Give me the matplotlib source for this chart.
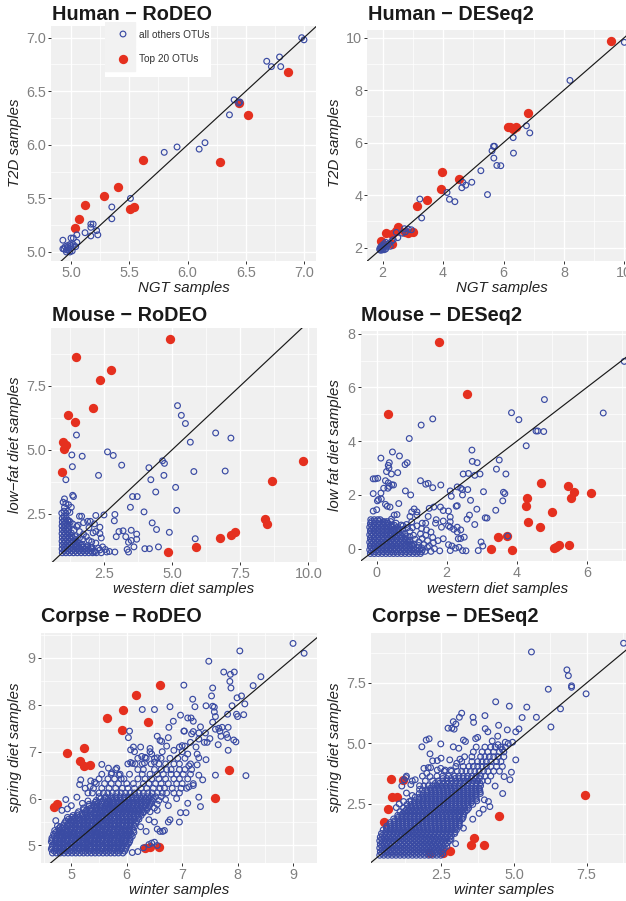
import matplotlib
matplotlib.use('Agg')
import matplotlib.pyplot as plt
from matplotlib.patches import Rectangle

plt.rcParams['font.family'] = ['Liberation Sans', 'DejaVu Sans']

W, H = 626, 901
BLUE = '#3A4BA3'
RED = '#E5301F'
BG = '#F0F0F0'

# ---- Human RoDEO
hr_blue = [(7.0,6.98),(6.98,7.0),(6.79,6.82),(6.68,6.78),(6.72,6.73),(6.80,6.73),(6.40,6.42),(6.44,6.39),(6.45,6.40),
           (6.36,6.28),(6.15,6.02),(6.10,5.96),(5.91,5.98),(5.80,5.93),(5.51,5.50),(5.35,5.42),(5.35,5.31),(5.17,5.26),
           (5.19,5.26),(5.17,5.23),(5.12,5.18),(5.22,5.20),(5.23,5.16),(5.17,5.15),(5.05,5.16),(5.05,5.09),(5.02,5.13),
           (5.00,5.13),(4.93,5.11),(5.02,5.07),(4.99,5.07),(4.97,5.06),(5.04,5.05),(5.0,5.04),(4.97,5.04),(4.93,5.03),
           (4.94,5.03),(4.96,5.02),(4.98,5.02),(5.01,5.01),(4.96,5.0),(4.99,5.0),(5.0,5.06),(4.95,5.05)]
hr_red = [(6.86,6.68),(6.44,6.39),(6.52,6.28),(6.28,5.84),(5.62,5.86),(5.40,5.61),(5.28,5.52),(5.12,5.44),(5.54,5.42),
          (5.51,5.40),(5.07,5.31),(5.03,5.22)]

# ---- Human DESeq2
hd_blue = [(10.0,9.82),(8.2,8.37),(6.76,6.64),(6.87,6.37),(6.32,6.19),(6.33,5.6),(5.67,5.86),(5.70,5.86),(5.62,5.69),
           (5.68,5.41),(5.78,5.13),(5.91,5.12),(5.25,4.93),(5.47,4.02),(4.95,4.49),(4.65,4.49),(4.75,4.38),(4.62,4.28),
           (4.13,4.10),(4.21,3.84),(4.39,3.75),(3.23,3.85),(3.29,3.13),(2.95,2.68),(2.85,2.70),(2.72,2.72),(2.45,2.58),
           (2.65,2.55),(2.75,2.6),(2.5,2.38),(2.3,2.25),(2.25,2.05),(2.1,2.2),(2.05,2.15),(2.0,2.0),(1.9,1.95),(1.95,1.9),
           (2.05,1.92),(2.1,1.95),(2.15,2.05),(1.98,2.08),(1.93,2.02),(2.0,1.92),(2.08,2.05),(2.2,2.15),(2.35,2.3),
           (1.97,1.97),(2.03,2.03),(1.91,1.91),(2.12,2.12)]
hd_red = [(9.56,9.88),(6.82,7.12),(6.15,6.6),(6.3,6.52),(6.42,6.58),(6.22,6.58),(3.98,4.87),(3.94,4.25),(4.52,4.63),
          (3.48,3.83),(3.15,3.6),(2.52,2.78),(2.1,2.55),(2.3,2.5),(2.45,2.65),(2.85,2.55),(3.0,2.6),(2.75,2.6),
          (1.95,2.25),(2.3,2.15)]

# ---- Mouse RoDEO
mr_red = [(4.93,9.34),(1.47,8.62),(2.77,8.13),(2.37,7.72),(2.08,6.63),(1.18,6.35),(1.42,6.08),(1.0,5.31),(1.12,5.2),
          (1.05,5.02),(0.97,4.14),(4.84,1.0),(5.88,1.2),(6.75,1.55),(7.15,1.65),(7.3,1.77),(8.4,2.28),(8.48,2.1),
          (8.68,3.77),(9.82,4.55)]
mr_blue = [(5.2,6.73),(5.34,6.35),(5.49,6.03),(6.6,5.66),(7.16,5.46),(5.67,5.3),(1.49,5.58),(1.32,4.8),(1.7,4.75),
           (2.63,4.92),(2.84,4.78),(3.15,4.4),(1.34,4.34),(4.15,4.3),(4.65,4.57),(4.72,4.47),(4.7,4.0),(5.8,4.15),
           (6.95,4.17),(2.3,4.0),(4.22,3.83),(1.1,3.83),(5.13,3.53),(4.4,3.35),(3.55,3.17),(3.72,3.17),(1.35,3.22),
           (1.38,3.17),(3.47,2.75),(5.17,2.63),(3.97,2.57),(2.9,2.47),(2.5,2.45),(2.2,2.43),(2.88,2.22),(4.27,2.14),
           (4.43,1.88),(4.9,1.77),(3.5,1.85),(3.2,1.83),(3.05,1.8),(3.7,1.7),(2.95,1.6),(3.3,1.6),(3.7,1.5),(5.85,1.52),
           (3.5,1.45),(3.4,1.38),(3.6,1.2),(4.5,1.2),(3.35,1.1),(3.4,1.0),(4.0,1.13),(4.17,1.13),(2.9,1.0),(2.7,1.02),
           (2.55,1.1),(2.35,1.08),(1.0,2.95),(1.05,3.08),(1.1,2.9),(1.2,2.85),(1.3,2.75),(1.05,2.75),(0.95,2.52),
           (1.1,2.52),(1.25,2.55),(1.6,2.4),(1.68,2.4),(1.9,2.2),(2.0,2.2),(1.55,2.05),(1.75,2.15),(2.15,2.1),(2.35,1.97),
           (2.2,1.8),(2.1,1.75),(2.35,1.72),(2.4,1.55),(1.95,1.95),(1.6,1.8),(1.85,1.6),(2.05,1.4),(2.2,1.35),(2.3,1.15),
           (1.7,1.3),(1.9,1.25),(2.6,1.0),(2.15,1.0),(1.5,2.0),(1.4,1.85),(1.75,1.7),(1.6,1.55),(1.45,1.6),(1.3,1.75),
           (1.35,2.1),(1.22,2.22),(1.55,1.35),(1.72,1.5),(1.95,1.45),(1.48,1.2),(1.82,1.12),(2.05,1.18),(2.45,1.2)]
mr_a = [1.03,1.17,1.31,1.45,1.59,1.73,1.87,2.01,2.15,2.29]
mr_rows = {0.97: [0.97,1.1,1.24,1.38,1.52,1.66,1.8,1.94,2.08,2.22,2.4],
           1.04: mr_a[:9],
           1.12: [0.96,1.08,1.22,1.36,1.5,1.64,1.78,1.92,2.05],
           1.19: mr_a[:8],
           1.27: [0.97,1.1,1.24,1.38,1.52,1.66],
           1.34: mr_a[:5],
           1.42: [0.96,1.08,1.22,1.36,1.48],
           1.49: mr_a[:4],
           1.57: [0.97,1.1,1.24,1.34],
           1.64: mr_a[:3],
           1.72: [0.96,1.08,1.22],
           1.79: mr_a[:2],
           1.87: [0.97,1.1,1.2],
           1.94: mr_a[:2],
           2.02: [0.96,1.08,1.22],
           2.09: mr_a[:2],
           2.17: [0.97,1.1,1.26],
           2.24: mr_a[:2],
           2.32: [0.97,1.12],
           2.4: mr_a[:1],
           2.6: mr_a[:2]}

# ---- Mouse DESeq2
md_red = [(1.78,7.68),(2.58,5.75),(0.33,5.0),(4.7,2.45),(5.45,2.33),(5.63,2.1),(6.13,2.08),(5.56,1.9),(4.3,1.88),
          (4.27,1.6),(5.0,1.37),(4.33,1.0),(4.67,0.8),(3.47,0.42),(3.72,0.47),(3.27,0.0),(3.87,-0.05),(5.07,0.03),
          (5.13,0.05),(5.22,0.15),(5.5,0.15)]
md_blue = [(7.07,6.97),(6.47,5.05),(4.79,5.55),(3.85,5.06),(4.06,4.8),(4.55,4.38),(4.6,4.38),(4.77,4.36),(4.27,3.83),
           (1.6,4.83),(1.27,4.6),(0.93,4.1),(0.45,3.6),(2.72,3.67),(0.65,3.45),(0.12,3.37),(2.73,3.25),(2.87,3.2),
           (3.5,3.3),(0.36,3.2),(0.33,3.1),(0.87,3.2),(0.81,3.13),(3.42,2.96),(0.35,3.0),(0.28,2.87),(0.42,2.78),
           (0.6,2.83),(2.47,2.78),(2.62,2.8),(2.95,2.78),(2.8,2.73),(3.69,2.78),(-0.1,2.6),(-0.04,2.6),(0.03,2.62),
           (0.25,2.53),(0.33,2.45),(0.43,2.38),(0.48,2.37),(0.36,2.32),(0.2,2.25),(0.32,2.25),(1.25,2.53),(1.4,2.4),
           (1.47,2.43),(1.6,2.27),(1.83,2.37),(2.3,2.3),(2.4,2.25),(2.45,2.2),(2.6,2.2),(2.45,2.0),(2.1,2.15),(2.13,1.95),
           (0.82,2.15),(0.97,2.0),(-0.1,2.05),(0.12,2.07),(3.05,2.12),(3.62,2.1),(3.66,2.05),(3.6,1.78),(2.68,1.8),
           (0.63,1.68),(0.25,1.65),(0.3,1.58),(0.38,1.55),(0.02,1.78),(0.05,1.83),(0.13,1.85),(2.3,1.6),(2.27,1.58),
           (2.86,1.47),(3.4,1.43),(1.63,1.55),(1.82,1.55),(1.9,1.42),(2.05,1.4),(1.5,1.5),(1.0,1.37),(1.07,1.48),
           (1.15,1.37),(1.15,1.25),(0.95,1.2),(0.5,1.25),(0.58,1.27),(0.42,1.1),(-0.1,1.4),(0.0,1.45),(3.1,1.15),
           (3.15,1.14),(2.65,1.25),(2.58,1.1),(2.1,1.18),(1.9,1.03),(2.1,1.0),(1.7,1.08),(1.68,0.95),(1.4,0.95),(1.47,1.2),
           (1.85,0.8),(2.05,0.85),(2.1,0.8),(2.3,0.8),(2.4,0.7),(2.2,0.72),(2.3,0.62),(2.5,0.43),(2.4,0.38),(2.33,0.37),
           (2.8,0.9),(2.98,0.25),(3.03,0.1),(2.9,-0.07),(3.74,0.47),(2.45,-0.07),(2.55,-0.08),(2.15,0.1),(2.35,0.05),
           (2.25,0.02),(2.05,0.15),(2.1,-0.07),(1.9,0.37),(1.75,0.3),(1.3,0.95),(1.15,0.85),(1.28,0.75),(1.42,0.7),
           (1.55,0.62),(1.6,0.42),(1.4,0.5),(1.25,0.55),(1.3,0.38),(1.45,0.3),(1.62,0.22),(1.5,0.1),(1.65,0.0),(1.8,-0.08),
           (1.55,-0.1),(1.0,1.0),(0.85,0.9),(0.7,0.88),(0.55,0.95),(0.75,0.72),(0.95,0.65),(1.05,0.5),(1.1,0.35),
           (0.75,0.85),(0.6,0.8),(0.88,0.78),(1.02,0.78),(0.62,0.68),(0.8,0.55),(0.95,0.45),(1.2,0.25),(1.35,0.15),
           (0.72,0.45),(0.9,0.3),(1.0,0.15),(1.2,0.12),(1.38,-0.1),(1.45,0.05),(1.3,-0.05),(0.22,1.0),(0.32,0.95),(0.45,0.85)]
md_a = [-0.15,-0.04,0.07,0.18,0.29,0.4,0.51,0.62,0.73,0.84,0.95,1.06,1.17,1.28,1.39]
md_rows = {-0.18: [-0.18,-0.07,0.04,0.15,0.26,0.37,0.48,0.59,0.7,0.81,0.92,1.03,1.14,1.25],
           -0.11: md_a[:14],
           -0.04: [-0.2,-0.1,0.01,0.12,0.23,0.34,0.45,0.56,0.67,0.78,0.89,1.0,1.11,1.22],
           0.03: md_a[:14],
           0.1: [-0.18,-0.07,0.04,0.15,0.26,0.37,0.48,0.59,0.7,0.81,0.92,1.03],
           0.17: md_a[:12],
           0.24: [-0.2,-0.1,0.01,0.12,0.23,0.34,0.45,0.56,0.67,0.78,0.89],
           0.31: md_a[:11],
           0.38: [-0.18,-0.07,0.04,0.15,0.26,0.37,0.48,0.59,0.7,0.82],
           0.45: md_a[:10],
           0.52: [-0.2,-0.1,0.01,0.12,0.23,0.34,0.45,0.56,0.68],
           0.59: md_a[:9],
           0.66: [-0.18,-0.07,0.04,0.15,0.26,0.37,0.48,0.58],
           0.73: md_a[:8],
           0.8: [-0.2,-0.1,0.01,0.12,0.23,0.34,0.44],
           0.87: md_a[:7],
           0.94: [-0.18,-0.07,0.04,0.15,0.26],
           1.01: md_a[:6],
           1.08: [-0.17,-0.07,0.03,0.1]}

# ---- Corpse RoDEO
cr_red = [(6.6,8.42),(6.17,8.2),(5.94,7.88),(5.64,7.72),(6.39,7.63),(5.92,7.47),(5.23,7.07),(4.93,6.97),(5.16,6.8),
          (5.23,6.7),(5.33,6.71),(4.74,5.89),(4.69,5.83),(7.84,6.6),(7.6,6.01),(6.58,4.96),(6.42,4.96),(6.33,4.94)]
cr_blue = [(9.0,9.31),(9.2,9.1),(8.04,9.15),(7.48,8.93),(7.75,8.7),(7.87,8.65),(7.94,8.7),(7.86,8.5),(8.42,8.6),(8.28,8.41),
           (7.03,8.42),(7.55,8.36),(7.88,8.36),(7.53,8.19),(7.19,8.12),(7.99,8.15),(8.07,8.19),(8.13,8.02),(7.9,7.98),
           (6.78,7.96),(7.23,7.96),(7.43,7.98),(7.55,7.97),(7.58,7.95),(7.58,7.85),(7.6,7.75),(6.28,7.9),(6.5,7.9),
           (6.97,7.78),(7.1,7.72),(7.16,7.72),(7.2,7.65),(7.55,7.63),(7.82,7.8),(7.98,7.8),(8.0,7.75),(8.11,7.79),
           (6.84,7.65),(6.76,7.52),(7.33,7.53),(7.6,7.48),(7.66,7.5),(7.72,7.52),(7.83,7.52),(6.05,7.44),(6.03,7.3),
           (7.03,7.44),(7.04,7.44),(7.2,7.43),(7.17,7.38),(7.3,7.4),(7.42,7.4),(7.68,7.44),(7.8,7.37),(7.7,7.33),(7.82,7.3),
           (7.93,7.25),(7.97,7.21),(7.83,7.03),(7.65,7.15),(7.5,7.28),(7.4,7.2),(7.3,7.27),(7.15,7.2),(6.75,7.3),(6.55,7.33),
           (6.6,7.24),(6.63,7.22),(6.72,7.12),(6.95,7.1),(7.0,7.13),(7.05,7.12),(7.25,7.1),(7.45,7.2),(6.25,7.1),(6.12,7.1),
           (6.07,7.04),(6.14,7.0),(6.42,7.07),(6.42,7.0),(6.27,6.9),(6.33,6.88),(6.45,6.95),(6.55,6.87),(6.64,7.0),(6.85,7.03),
           (7.0,7.0),(7.1,6.95),(7.27,6.95),(7.3,6.87),(7.43,6.83),(7.27,6.72),(7.12,6.7),(7.17,6.62),(7.3,6.5),(7.37,6.4),
           (7.6,6.5),(8.15,6.49),(7.2,6.28),(7.12,6.25),(7.3,6.03),(7.33,5.83),(7.1,5.9),(6.97,5.7),(7.07,5.7),(6.95,5.5),
           (6.75,5.5),(6.5,5.5),(6.6,5.3),(6.78,5.55),(6.65,5.3),(6.68,5.32),(5.55,6.73),(5.67,6.65),(5.82,6.65),(5.73,6.55),
           (5.86,6.5),(6.07,6.77),(6.1,6.75),(6.32,6.76),(6.5,6.78),(5.17,6.4),(5.15,6.3),(5.35,6.38),(5.42,6.35),(5.34,6.26),
           (4.9,5.98),(5.1,6.03),(4.72,5.53),(4.75,5.42),(4.83,5.75),(4.93,5.78),(6.3,4.95),(6.45,5.05),(6.5,5.07),(6.4,5.02),
           (6.2,4.87),(6.1,4.85),(6.55,5.0),(6.35,5.3),(6.55,5.35),(6.4,5.55),(6.25,5.4),(6.3,5.7),(6.55,5.75),(6.75,5.85),
           (6.9,6.0),(6.7,5.98),(5.0,5.85),(5.2,5.9),(5.3,5.95)]
cr_a = [4.69,4.77,4.83,4.9,4.98,5.04,5.11,5.19,5.25,5.32,5.4,5.46,5.53,5.61,5.67,5.74,5.82,5.88,5.96,6.03,6.1,6.18,6.25,6.33,6.4,6.48]
cr_b = [4.65,4.72,4.8,4.86,4.93,5.01,5.07,5.14,5.22,5.28,5.35,5.43,5.49,5.56,5.64,5.7,5.77,5.85,5.91,5.99,6.06,6.13,6.21,6.28,6.36,6.44]
cr_rows = {4.84: [4.66,4.73,4.8,4.87,4.94,5.01,5.08,5.15,5.22,5.29,5.36,5.43,5.5,5.57,5.64,5.71,5.78,5.85,5.93],
           4.88: cr_a[:19],
           4.92: [4.64,4.71,4.78,4.85,4.92,4.99,5.06,5.13,5.2,5.27,5.34,5.41,5.48,5.55,5.62,5.69,5.76,5.83,5.9,5.98],
           4.96: cr_b[:20],
           5.0: [4.66,4.73,4.8,4.87,4.94,5.01,5.08,5.15,5.22,5.29,5.36,5.43,5.5,5.57,5.64,5.71,5.78,5.85,5.92,6.0],
           5.04: cr_a[:20],
           5.08: [4.64,4.71,4.78,4.85,4.92,4.99,5.06,5.13,5.2,5.27,5.34,5.41,5.48,5.55,5.62,5.69,5.76,5.83,5.9,5.97,6.05],
           5.12: cr_b[:21],
           5.16: [4.65,4.73,4.8,4.87,4.94,5.01,5.08,5.15,5.22,5.29,5.36,5.43,5.5,5.57,5.64,5.71,5.78,5.85,5.92,5.99,6.06],
           5.2: cr_a[:21],
           5.24: [4.68,4.75,4.82,4.89,4.96,5.03,5.1,5.17,5.24,5.31,5.38,5.45,5.52,5.59,5.66,5.73,5.8,5.87,5.94,6.01,6.08],
           5.28: cr_b[1:22],
           5.32: [4.7,4.78,4.85,4.92,4.99,5.06,5.13,5.2,5.27,5.34,5.41,5.48,5.55,5.62,5.69,5.76,5.83,5.9,5.97,6.04,6.12],
           5.36: cr_a[1:21],
           5.4: [4.8,4.87,4.94,5.01,5.08,5.15,5.22,5.29,5.36,5.43,5.5,5.57,5.64,5.71,5.78,5.85,5.92,5.99,6.06,6.14],
           5.44: cr_b[3:22],
           5.48: [4.88,4.95,5.02,5.09,5.16,5.23,5.3,5.37,5.44,5.51,5.58,5.65,5.72,5.79,5.86,5.93,6.0,6.07,6.16],
           5.52: cr_a[3:22],
           5.56: [4.95,5.02,5.09,5.16,5.23,5.3,5.37,5.44,5.51,5.58,5.65,5.72,5.79,5.86,5.93,6.0,6.07,6.14,6.22],
           5.6: cr_b[4:23],
           5.64: [5.03,5.11,5.2,5.28,5.35,5.42,5.49,5.56,5.63,5.7,5.77,5.84,5.91,5.98,6.05,6.12,6.19,6.26],
           5.68: cr_a[6:23],
           5.72: [5.13,5.25,5.36,5.44,5.51,5.58,5.65,5.72,5.79,5.86,5.93,6.0,6.07,6.14,6.21,6.3,6.42],
           5.76: cr_b[8:25],
           5.8: [5.22,5.35,5.45,5.53,5.6,5.67,5.74,5.81,5.88,5.95,6.02,6.09,6.16,6.23,6.3,6.38,6.5],
           5.84: cr_a[9:25],
           5.88: [5.32,5.44,5.55,5.63,5.7,5.77,5.84,5.91,5.98,6.05,6.12,6.19,6.26,6.33,6.42,6.55],
           5.92: cr_b[11:26],
           5.96: [5.45,5.58,5.68,5.75,5.82,5.89,5.96,6.03,6.1,6.17,6.24,6.31,6.38,6.46,6.58],
           6.0: cr_a[12:26],
           6.04: [5.5,5.62,5.72,5.8,5.88,5.95,6.02,6.09,6.16,6.23,6.3,6.37,6.44,6.52,6.62],
           6.12: [5.3,5.38,5.5,5.58,5.66,5.74,5.82,5.9,5.98,6.06,6.14,6.22,6.3,6.38,6.46,6.55,6.64,6.72,6.85,6.95],
           6.22: [5.25,5.4,5.55,5.68,5.8,5.92,6.02,6.14,6.26,6.36,6.48,6.6,6.68,6.82,6.98,7.08],
           6.32: [5.45,5.6,5.72,5.85,6.0,6.12,6.3,6.4,6.52,6.62,6.75,6.9,7.0,7.2],
           6.42: [5.5,5.66,5.78,5.9,5.95,6.2,6.33,6.45,6.58,6.7,6.85,6.95,7.1],
           6.52: [5.55,5.72,5.88,6.05,6.28,6.42,6.55,6.66,6.8,6.9,7.02,7.15],
           6.62: [5.8,6.2,6.3,6.5,6.62,6.72,6.8,6.95,7.05],
           6.74: [6.02,6.15,6.28,6.44,6.58,6.7,6.85,6.95,7.15],
           6.86: [6.2,6.35,6.5,6.62,6.78,6.92,7.05]}

# ---- Corpse DESeq2
cd_red = [(7.43,2.85),(4.5,2.0),(0.77,3.55),(1.19,3.49),(0.79,2.8),(0.96,2.8),(0.68,2.28),(0.54,1.77),(3.62,1.11),
          (3.51,0.82),(3.96,0.82),(2.8,0.57),(2.57,0.49),(2.11,0.46)]
cd_blue = [(8.77,9.14),(5.6,8.78),(6.82,8.04),(6.87,7.8),(6.98,7.38),(6.98,7.32),(7.48,7.05),(6.18,7.24),(6.6,6.43),(6.27,5.68),
           (4.37,6.72),(4.84,6.54),(5.44,6.5),(5.28,6.07),(5.77,6.08),(4.0,6.15),(3.2,6.25),(2.91,5.9),(3.0,5.8),(2.73,5.63),
           (2.86,5.63),(2.94,5.59),(3.12,6.08),(3.59,6.08),(3.61,5.87),(4.01,5.61),(4.1,5.48),(4.47,5.75),(4.77,5.56),(5.17,5.6),
           (5.06,5.48),(4.44,5.3),(3.75,5.25),(3.68,5.2),(3.26,5.14),(3.33,5.08),(1.83,4.86),(1.98,5.14),(2.08,5.19),(2.48,4.98),
           (2.91,4.86),(3.1,4.8),(2.11,4.57),(2.49,4.39),(2.2,4.28),(2.36,4.29),(2.79,4.32),(3.14,4.35),(3.03,4.18),(1.9,3.97),
           (2.05,4.0),(2.13,4.0),(2.0,3.77),(2.11,3.63),(2.36,3.9),(2.48,3.97),(2.63,3.9),(2.82,3.9),(5.06,4.32),(4.91,3.81),
           (4.86,3.5),(4.66,3.63),(4.35,3.24),(4.61,2.93),(3.98,2.67),(4.12,2.6),(4.17,2.39),(3.94,2.28),(3.8,2.11),(3.58,1.87),
           (3.26,1.5),(2.99,0.86),(1.14,3.24),(1.28,3.59),(1.22,3.5),(1.45,3.3),(1.6,3.5),(1.3,2.95),(1.5,2.85),(1.2,2.6),
           (0.95,2.35),(1.05,2.5),(1.4,2.6),(1.75,3.1),(4.6,4.75),(4.45,4.95),(4.8,5.0),(4.95,5.05),(4.25,5.1),(4.7,5.05)]
cd_a = [0.45,0.59,0.73,0.87,1.01,1.15,1.29,1.43,1.57,1.71,1.85,1.99,2.13,2.27,2.41,2.55,2.69,2.83,2.97,3.11,3.25,3.39,3.53,3.67,3.81]
cd_c = [0.47,0.61,0.75,0.89,1.03,1.17,1.31,1.45,1.59,1.73,1.87,2.01,2.15,2.29,2.43,2.57,2.71,2.85,2.99,3.13,3.27,3.41,3.55,3.69,3.83]
cd_rows = {0.38: [0.38,0.52,0.66,0.8,0.94,1.08,1.22,1.36,1.5,1.64,1.78,1.92,2.06,2.2,2.34,2.48],
           0.45: cd_a[:16],
           0.53: [0.4,0.54,0.68,0.82,0.96,1.1,1.24,1.38,1.52,1.66,1.8,1.94,2.08,2.22,2.36,2.5],
           0.6: cd_c[:16],
           0.68: [0.38,0.52,0.66,0.8,0.94,1.08,1.22,1.36,1.5,1.64,1.78,1.92,2.06,2.2,2.34,2.48,2.6],
           0.75: cd_a[:17],
           0.83: [0.4,0.54,0.68,0.82,0.96,1.1,1.24,1.38,1.52,1.66,1.8,1.94,2.08,2.22,2.36,2.5,2.64],
           0.9: cd_c[:17],
           0.98: [0.38,0.52,0.66,0.8,0.94,1.08,1.22,1.36,1.5,1.64,1.78,1.92,2.06,2.2,2.34,2.48,2.62,2.78],
           1.05: cd_a[:18],
           1.13: [0.4,0.54,0.68,0.82,0.96,1.1,1.24,1.38,1.52,1.66,1.8,1.94,2.08,2.22,2.36,2.5,2.64,2.8],
           1.2: cd_c[:18],
           1.28: [0.44,0.56,0.7,0.84,0.98,1.12,1.26,1.4,1.54,1.68,1.82,1.96,2.1,2.24,2.38,2.52,2.66,2.8,2.96],
           1.35: cd_a[1:19],
           1.43: [0.5,0.64,0.78,0.92,1.06,1.2,1.34,1.48,1.62,1.76,1.9,2.04,2.18,2.32,2.46,2.6,2.74,2.88,3.02],
           1.5: cd_c[1:19],
           1.58: [0.62,0.76,0.9,1.04,1.18,1.32,1.46,1.6,1.74,1.88,2.02,2.16,2.3,2.44,2.58,2.72,2.86,3.0,3.12],
           1.65: cd_a[2:20],
           1.73: [0.74,0.88,1.02,1.16,1.3,1.44,1.58,1.72,1.86,2.0,2.14,2.28,2.42,2.56,2.7,2.84,2.98,3.12],
           1.8: cd_c[3:20],
           1.88: [0.86,1.0,1.14,1.28,1.42,1.56,1.7,1.84,1.98,2.12,2.26,2.4,2.54,2.68,2.82,2.96,3.1,3.22],
           1.95: cd_a[4:21],
           2.03: [1.0,1.14,1.28,1.42,1.56,1.7,1.84,1.98,2.12,2.26,2.4,2.54,2.68,2.82,2.96,3.1,3.26],
           2.1: cd_c[5:21],
           2.18: [1.08,1.22,1.36,1.5,1.64,1.78,1.92,2.06,2.2,2.34,2.48,2.62,2.76,2.9,3.04,3.18,3.32],
           2.25: cd_a[6:22],
           2.33: [1.2,1.34,1.48,1.62,1.76,1.9,2.04,2.18,2.32,2.46,2.6,2.74,2.88,3.02,3.16,3.3,3.44],
           2.4: cd_c[7:22],
           2.48: [1.32,1.46,1.6,1.74,1.88,2.02,2.16,2.3,2.44,2.58,2.72,2.86,3.0,3.14,3.28,3.42,3.58],
           2.55: cd_a[8:23],
           2.63: [1.46,1.6,1.74,1.88,2.02,2.16,2.3,2.44,2.58,2.72,2.86,3.0,3.14,3.28,3.42,3.56,3.72],
           2.7: cd_c[9:24],
           2.78: [1.6,1.74,1.88,2.02,2.16,2.3,2.44,2.58,2.72,2.86,3.0,3.14,3.28,3.42,3.56,3.7],
           2.85: cd_a[10:24],
           2.93: [1.74,1.88,2.02,2.16,2.3,2.44,2.58,2.72,2.86,3.0,3.14,3.28,3.42,3.56,3.7,3.84],
           3.0: cd_c[11:25],
           3.08: [1.85,2.0,2.14,2.28,2.42,2.56,2.7,2.84,2.98,3.12,3.26,3.4,3.54,3.68,3.82],
           3.15: cd_a[12:25],
           3.25: [1.75,1.9,2.05,2.2,2.35,2.5,2.65,2.8,2.95,3.1,3.25,3.4,3.55,3.7,3.85],
           3.35: cd_c[13:25],
           3.45: [1.5,1.95,2.2,2.4,2.55,2.7,2.85,3.0,3.15,3.3,3.45,3.6,3.75,3.9,4.1],
           3.55: cd_a[15:25],
           3.65: [1.3,1.85,2.35,2.55,2.75,2.95,3.1,3.25,3.4,3.55,3.7,3.85,4.0,4.2],
           3.85: [2.6,2.85,3.05,3.2,3.35,3.5,3.65,3.8,3.95,4.1,4.3,4.5],
           4.05: [3.0,3.25,3.45,3.6,3.75,3.9,4.05,4.2,4.4,4.6],
           4.25: [3.2,3.55,3.75,3.9,4.05,4.2,4.4,4.55],
           4.45: [3.3,3.55,3.85,4.0,4.15,4.3,4.45,4.65],
           4.65: [3.6,3.9,4.1,4.3,4.5,4.65],
           4.85: [3.7,4.0,4.2,4.35,4.55,4.7]}

panels = [
    dict(box=(51, 26, 316, 261), xlim=(4.828, 7.103), ylim=(4.916, 7.109),
         xt=[5, 5.5, 6, 6.5, 7], xl=['5.0', '5.5', '6.0', '6.5', '7.0'], xm=[5.25, 5.75, 6.25, 6.75],
         yt=[5, 5.5, 6, 6.5, 7], yl=['5.0', '5.5', '6.0', '6.5', '7.0'], ym=[5.25, 5.75, 6.25, 6.75],
         title='Human − RoDEO', tpos=(52, 20), xlabel='NGT samples', xlab=(184, 288),
         ylabel='T2D samples', ylab=(15, 143), blue=hr_blue, red=hr_red, rows={}),
    dict(box=(367.3, 30, 626, 261), xlim=(1.49, 10.056), ylim=(1.49, 10.29),
         xt=[2, 4, 6, 8, 10], xl=['2', '4', '6', '8', '10'], xm=[3, 5, 7, 9],
         yt=[2, 4, 6, 8, 10], yl=['2', '4', '6', '8', '10'], ym=[3, 5, 7, 9],
         title='Human − DESeq2', tpos=(368.3, 20), xlabel='NGT samples', xlab=(502, 288),
         ylabel='T2D samples', ylab=(335, 143), blue=hd_blue, red=hd_red, rows={}),
    dict(box=(51, 328, 316.7, 561.7), xlim=(0.555, 10.31), ylim=(0.62, 9.77),
         xt=[2.5, 5, 7.5, 10], xl=['2.5', '5.0', '7.5', '10.0'], xm=[1.25, 3.75, 6.25, 8.75],
         yt=[2.5, 5, 7.5], yl=['2.5', '5.0', '7.5'], ym=[1.25, 3.75, 6.25, 8.75],
         title='Mouse − RoDEO', tpos=(52, 320.7), xlabel='western diet samples', xlab=(184, 589),
         ylabel='low−fat diet samples', ylab=(15, 445), blue=mr_blue, red=mr_red, rows=mr_rows),
    dict(box=(360.7, 331.3, 626, 561), xlim=(-0.457, 7.12), ylim=(-0.458, 8.09),
         xt=[0, 2, 4, 6], xl=['0', '2', '4', '6'], xm=[1, 3, 5, 7],
         yt=[0, 2, 4, 6, 8], yl=['0', '2', '4', '6', '8'], ym=[1, 3, 5, 7],
         title='Mouse − DESeq2', tpos=(360.7, 320.7), xlabel='western diet samples', xlab=(498, 589),
         ylabel='low fat diet samples', ylab=(335, 445), blue=md_blue, red=md_red, rows=md_rows),
    dict(box=(41, 633.3, 316.7, 863.3), xlim=(4.453, 9.427), ylim=(4.62, 9.526),
         xt=[5, 6, 7, 8, 9], xl=['5', '6', '7', '8', '9'], xm=[4.5, 5.5, 6.5, 7.5, 8.5],
         yt=[5, 6, 7, 8, 9], yl=['5', '6', '7', '8', '9'], ym=[5.5, 6.5, 7.5, 8.5, 9.5],
         title='Corpse − RoDEO', tpos=(41.3, 622), xlabel='winter samples', xlab=(179, 890),
         ylabel='spring diet samples', ylab=(15, 747), blue=cr_blue, red=cr_red, rows=cr_rows),
    dict(box=(371, 633.3, 626, 863.3), xlim=(0.08, 8.853), ylim=(0.048, 9.55),
         xt=[2.5, 5, 7.5], xl=['2.5', '5.0', '7.5'], xm=[1.25, 3.75, 6.25, 8.75],
         yt=[2.5, 5, 7.5], yl=['2.5', '5.0', '7.5'], ym=[1.25, 3.75, 6.25, 8.75],
         title='Corpse − DESeq2', tpos=(371.7, 622), xlabel='winter samples', xlab=(504, 890),
         ylabel='spring diet samples', ylab=(335, 747), blue=cd_blue, red=cd_red, rows=cd_rows),
]


def px_axes(fig, x0, y0, x1, y1):
    # pixel box measured from the top left of the picture
    return fig.add_axes([x0 / W, 1 - y1 / H, (x1 - x0) / W, (y1 - y0) / H])


fig = plt.figure(figsize=(W / 100, H / 100), dpi=100, facecolor='white')

for p in panels:
    ax = px_axes(fig, *p['box'])
    ax.set_facecolor(BG)
    for s in ax.spines.values():
        s.set_visible(False)
    ax.set_xlim(p['xlim'])
    ax.set_ylim(p['ylim'])
    ax.set_xticks(p['xt'], p['xl'])
    ax.set_yticks(p['yt'], p['yl'])
    ax.set_xticks(p['xm'], minor=True)
    ax.set_yticks(p['ym'], minor=True)
    ax.set_axisbelow(True)
    ax.grid(which='major', color='white', lw=1.0)
    ax.grid(which='minor', color='white', lw=0.5)
    ax.tick_params(which='minor', length=0)
    ax.tick_params(which='major', length=2.2, width=0.7, color='#333333', labelcolor='#808080',
                   labelsize=10.4, pad=1.5)

    rx = [v[0] for v in p['red']]
    ry = [v[1] for v in p['red']]
    ax.scatter(rx, ry, s=45, color=RED, linewidths=0, zorder=2)

    bx = [v[0] for v in p['blue']]
    by = [v[1] for v in p['blue']]
    for yv, xs in p['rows'].items():
        bx += xs
        by += [yv] * len(xs)
    ax.scatter(bx, by, s=17, facecolors='none', edgecolors=BLUE, linewidths=0.85, zorder=3)
    ax.axline((p['xlim'][0], p['xlim'][0]), slope=1, color='#1a1a1a', lw=0.85, zorder=4)

    fig.text(p['tpos'][0] / W, 1 - p['tpos'][1] / H, p['title'], fontsize=14.3, fontweight='bold',
             color='#1a1a1a', ha='left', va='baseline')
    fig.text(p['xlab'][0] / W, 1 - p['xlab'][1] / H, p['xlabel'], fontsize=10.8, style='italic',
             color='#222222', ha='center', va='center')
    fig.text(p['ylab'][0] / W, 1 - p['ylab'][1] / H, p['ylabel'], fontsize=10.8, style='italic',
             color='#222222', ha='center', va='center', rotation=90)

# legend of the first panel, sits on top of it
leg = px_axes(fig, 105, 22, 211, 77)
leg.set_xlim(105, 211)
leg.set_ylim(77, 22)
leg.axis('off')
leg.patch.set_visible(True)
leg.add_patch(Rectangle((105, 22), 106, 55, color='white', zorder=0))
leg.add_patch(Rectangle((105, 22), 30, 24, color='#F2F2F2', zorder=1))
leg.add_patch(Rectangle((105, 47), 30, 24, color='#F2F2F2', zorder=1))
leg.scatter([123], [34], s=17, facecolors='none', edgecolors=BLUE, linewidths=0.85, zorder=2)
leg.scatter([123], [59], s=45, color=RED, linewidths=0, zorder=2)
leg.text(139, 34.5, 'all others OTUs', fontsize=7.3, color='#333333', va='center')
leg.text(139, 58.5, 'Top 20 OTUs', fontsize=7.3, color='#333333', va='center')

fig.savefig('out.png', dpi=100)
